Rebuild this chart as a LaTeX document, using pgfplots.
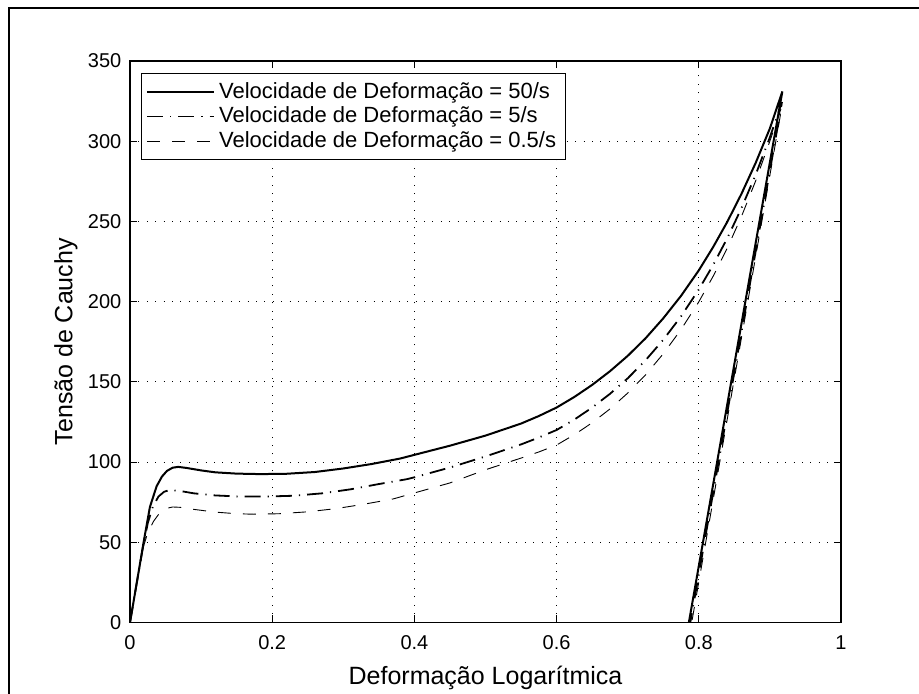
\documentclass[border=0pt]{standalone}
\usepackage{fontspec}
\setmainfont{Liberation Sans}
\usepackage{pgfplots}
\pgfplotsset{compat=1.18}

\newcommand\tickfont{\fontsize{10}{12}\selectfont}
\newcommand\legfont{\fontsize{11}{13.2}\selectfont}
\newcommand\labfont{\fontsize{12.5}{15}\selectfont}

% Velocidade 50/s
\pgfplotstableread{
x y
0 0
0.010 26
0.0187 49
0.028 72
0.0375 85
0.045 91
0.052 94.5
0.060 96.5
0.068 97
0.080 96.3
0.100 94.8
0.120 93.6
0.150 92.8
0.183 92.5
0.220 92.7
0.260 93.8
0.300 96
0.340 98.8
0.380 102.2
0.400 104.5
0.450 110.2
0.500 116.5
0.550 124
0.575 128.7
0.600 134
0.625 140.6
0.650 148.1
0.675 156.6
0.700 166.2
0.725 177.1
0.750 189.6
0.775 203.6
0.800 219.5
0.820 233.9
0.840 249.7
0.860 267.2
0.880 286.5
0.900 308
0.9175 331
0.786 0
}\taxaA
% Velocidade 5/s
\pgfplotstableread{
x y
0 0
0.010 26
0.0187 48
0.025 62
0.032 72
0.040 78.5
0.048 81.5
0.056 82.6
0.070 82
0.090 80.5
0.120 79.2
0.150 78.6
0.190 78.5
0.230 79
0.270 80.5
0.310 83
0.350 86.3
0.389 89.3
0.400 90.5
0.450 96.6
0.500 103.5
0.550 111
0.575 115.3
0.600 120
0.625 126.5
0.650 134
0.675 142.5
0.700 152.2
0.725 163.4
0.750 176.2
0.775 190.8
0.800 207.6
0.820 222.7
0.840 239.5
0.860 258.3
0.880 279.2
0.900 302.5
0.917 324.4
0.788 0
}\taxaB
% Velocidade 0.5/s
\pgfplotstableread{
x y
0 0
0.010 26
0.0187 47
0.025 56
0.033 63
0.042 68.5
0.050 71
0.060 72
0.070 71.8
0.090 70.5
0.120 68.8
0.150 67.8
0.173 67.5
0.210 67.8
0.250 69
0.290 71
0.330 73.8
0.370 77
0.394 80
0.450 87
0.500 95.2
0.550 102.5
0.575 106.3
0.600 110.6
0.625 117.1
0.650 124.5
0.675 133.1
0.700 143
0.725 154.3
0.750 167.5
0.775 182.6
0.800 199.9
0.820 215.7
0.840 233.3
0.860 253.1
0.880 275.3
0.900 300.1
0.917 322
0.790 0
}\taxaC

\begin{document}
\begin{tikzpicture}
\useasboundingbox (0,0) rectangle (459.5pt,347pt);
\draw[line width=0.7pt] (4.5pt,0) -- (4.5pt,343pt) -- (459.5pt,343pt);
\begin{axis}[
  at={(65pt,35.75pt)}, anchor=south west,
  scale only axis, width=355.5pt, height=280.75pt,
  xmin=0, xmax=1, ymin=0, ymax=350,
  xtick={0,0.2,0.4,0.6,0.8,1},
  ytick={0,50,100,150,200,250,300,350},
  grid=major, grid style={black, line width=0.5pt, dash pattern=on 0.5pt off 3.7pt},
  tick align=inside, major tick length=3.5pt,
  tick style={black, line width=0.5pt},
  axis line style={line width=0.6pt},
  /pgf/number format/assume math mode=true,
  tick label style={font=\tickfont},
  xticklabel style={yshift=-2.9pt},
  yticklabel style={xshift=-0.8pt},
  label style={font=\labfont},
  xlabel={Deformação Logarítmica},
  ylabel={Tensão de Cauchy},
  xlabel style={at={(axis description cs:0.5,-0.111)}, anchor=base},
  ylabel style={at={(axis description cs:-0.090,0.5)}, anchor=center},
  legend style={at={(axis description cs:0.015,0.979)}, anchor=north west,
    draw=black, line width=0.5pt, font=\legfont,
    row sep=-1.1pt, inner sep=2.5pt},
  legend cell align=left,
  legend image code/.code={\draw[#1] (0pt,0pt) -- (33.5pt,0pt);},
]
\addplot[black, line width=1pt, mark=none] table {\taxaA};
\addlegendentry{Velocidade de Deformação = 50/s}
\addplot[black, line width=0.9pt, mark=none, dash pattern=on 8pt off 3.5pt on 0.6pt off 3.5pt] table {\taxaB};
\addlegendentry{Velocidade de Deformação = 5/s}
\addplot[black, line width=0.45pt, mark=none, dash pattern=on 6.5pt off 6pt] table {\taxaC};
\addlegendentry{Velocidade de Deformação = 0.5/s}
\end{axis}
\end{tikzpicture}
\end{document}
